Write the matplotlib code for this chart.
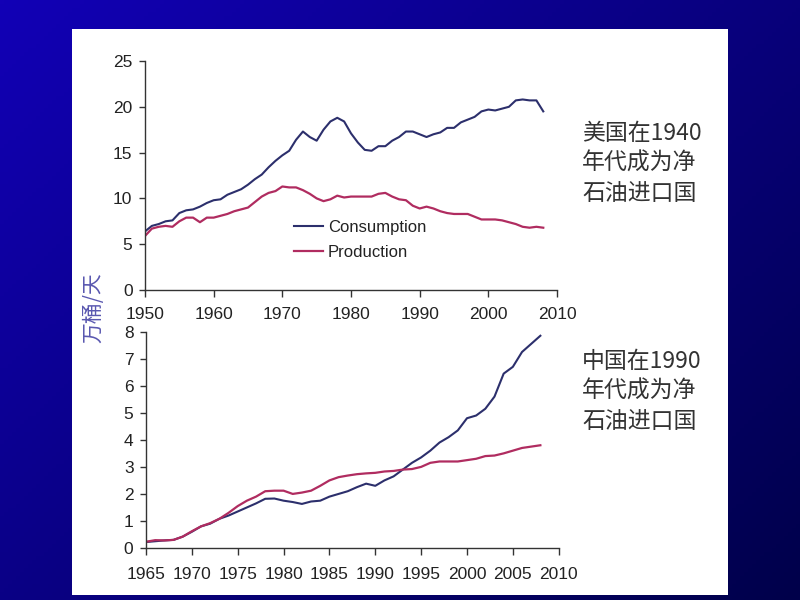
import numpy as np
import matplotlib
matplotlib.use("Agg")
import matplotlib.pyplot as plt
from matplotlib.patches import Rectangle

# ---------------- data ----------------
us_years = list(range(1950, 2009))
us_consumption = [6.4, 7.0, 7.2, 7.5, 7.6, 8.4, 8.7, 8.8, 9.1, 9.5,
                  9.8, 9.9, 10.4, 10.7, 11.0, 11.5, 12.1, 12.6, 13.4, 14.1,
                  14.7, 15.2, 16.4, 17.3, 16.7, 16.3, 17.5, 18.4, 18.8, 18.4,
                  17.1, 16.1, 15.3, 15.2, 15.7, 15.7, 16.3, 16.7, 17.3, 17.3,
                  17.0, 16.7, 17.0, 17.2, 17.7, 17.7, 18.3, 18.6, 18.9, 19.5,
                  19.7, 19.6, 19.8, 20.0, 20.7, 20.8, 20.7, 20.7, 19.5]
us_production = [5.9, 6.7, 6.9, 7.0, 6.9, 7.5, 7.9, 7.9, 7.4, 7.9,
                 7.9, 8.1, 8.3, 8.6, 8.8, 9.0, 9.6, 10.2, 10.6, 10.8,
                 11.3, 11.2, 11.2, 10.9, 10.5, 10.0, 9.7, 9.9, 10.3, 10.1,
                 10.2, 10.2, 10.2, 10.2, 10.5, 10.6, 10.2, 9.9, 9.8, 9.2,
                 8.9, 9.1, 8.9, 8.6, 8.4, 8.3, 8.3, 8.3, 8.0, 7.7,
                 7.7, 7.7, 7.6, 7.4, 7.2, 6.9, 6.8, 6.9, 6.8]

cn_years = list(range(1965, 2009))
cn_consumption = [0.22, 0.25, 0.28, 0.30, 0.42, 0.60, 0.80, 0.90, 1.08, 1.20,
                  1.35, 1.50, 1.65, 1.82, 1.83, 1.75, 1.70, 1.63, 1.72, 1.75,
                  1.90, 2.00, 2.10, 2.25, 2.38, 2.30, 2.50, 2.65, 2.90, 3.15,
                  3.35, 3.60, 3.90, 4.10, 4.35, 4.80, 4.90, 5.15, 5.60, 6.45,
                  6.70, 7.25, 7.55, 7.85]
cn_production = [0.23, 0.29, 0.28, 0.30, 0.42, 0.62, 0.80, 0.92, 1.08, 1.30,
                 1.55, 1.75, 1.90, 2.10, 2.12, 2.12, 2.00, 2.05, 2.12, 2.30,
                 2.50, 2.62, 2.68, 2.73, 2.76, 2.78, 2.83, 2.85, 2.90, 2.92,
                 3.00, 3.15, 3.20, 3.20, 3.20, 3.25, 3.30, 3.40, 3.42, 3.50,
                 3.60, 3.70, 3.75, 3.80]

top_xticks = [1950, 1960, 1970, 1980, 1990, 2000, 2010]
top_yticks = [0, 5, 10, 15, 20, 25]
bot_xticks = [1965, 1970, 1975, 1980, 1985, 1990, 1995, 2000, 2005, 2010]
bot_yticks = [0, 1, 2, 3, 4, 5, 6, 7, 8]

series_labels = ["Consumption", "Production"]
ylabel_text = "万桶/天"
us_note = ["美国在1940", "年代成为净", "石油进口国"]
cn_note = ["中国在1990", "年代成为净", "石油进口国"]

# ---------------- style ----------------
CJK = ["Noto Sans CJK SC", "DejaVu Sans"]
LAT = ["Liberation Sans", "DejaVu Sans"]
c_cons = "#2c2f6c"
c_prod = "#b02c60"
tick_col = "#222222"

fig = plt.figure(figsize=(8, 6), dpi=100)

# gradient background
bg = fig.add_axes([0, 0, 1, 1], zorder=-10)
gx, gy = np.meshgrid(np.linspace(0, 1, 200), np.linspace(0, 1, 150))
t = np.clip(0.55 * gx + 0.45 * gy, 0, 1)
c0 = np.array([0x12, 0x00, 0xb6]) / 255
c1 = np.array([0x00, 0x00, 0x4a]) / 255
img = c0[None, None, :] * (1 - t[..., None]) + c1[None, None, :] * t[..., None]
bg.imshow(img, aspect="auto", extent=[0, 1, 0, 1], origin="upper")
bg.set_axis_off()

# white panel
fig.patches.append(Rectangle((72 / 800, 1 - 595 / 600), (728 - 72) / 800, (595 - 29) / 600,
                             transform=fig.transFigure, facecolor="white",
                             edgecolor="none", zorder=-5))


def style_axes(ax, xpad):
    for s in ["top", "right"]:
        ax.spines[s].set_visible(False)
    for s in ["left", "bottom"]:
        ax.spines[s].set_color("#333333")
        ax.spines[s].set_linewidth(1.0)
    ax.tick_params(axis="y", direction="out", length=4, width=1, pad=5,
                   colors="#333333", labelcolor=tick_col, labelsize=12.5)
    ax.tick_params(axis="x", direction="out", length=5, width=1, pad=xpad,
                   colors="#333333", labelcolor=tick_col, labelsize=12.5)
    for lab in ax.get_xticklabels() + ax.get_yticklabels():
        lab.set_family(LAT)
    ax.set_facecolor("none")


# top axes (US)
ax1 = fig.add_axes([145 / 800, 1 - 290 / 600, (557 - 145) / 800, (290 - 61) / 600])
ax1.plot(us_years, us_consumption, color=c_cons, lw=1.5, label=series_labels[0])
ax1.plot(us_years, us_production, color=c_prod, lw=1.6, label=series_labels[1])
ax1.set_xlim(1950, 2010)
ax1.set_ylim(0, 25)
ax1.set_xticks(top_xticks)
ax1.set_yticks(top_yticks)
style_axes(ax1, 7)
leg = ax1.legend(loc="upper left", bbox_to_anchor=(0.325, 0.37), frameon=False,
                 handlelength=1.75, handletextpad=0.3, labelspacing=0.6,
                 prop={"family": LAT, "size": 12})
for txt in leg.get_texts():
    txt.set_color("#222222")

# bottom axes (China)
ax2 = fig.add_axes([146 / 800, 1 - 548 / 600, (558.7 - 146) / 800, (548 - 331.7) / 600])
ax2.plot(cn_years, cn_consumption, color=c_cons, lw=1.5)
ax2.plot(cn_years, cn_production, color=c_prod, lw=1.6)
ax2.set_xlim(1965, 2010)
ax2.set_ylim(0, 8)
ax2.set_xticks(bot_xticks)
ax2.set_yticks(bot_yticks)
style_axes(ax2, 9)

# shared y label
fig.text(93 / 800, 1 - 308 / 600, ylabel_text, rotation=90, ha="center", va="center",
         fontsize=15, color="#5a58b0", family=CJK)

# notes
for i, line in enumerate(us_note):
    fig.text(582 / 800, 1 - (133 + 30.5 * i) / 600, line, ha="left", va="center",
             fontsize=16.5, color="#333333", family=CJK)
for i, line in enumerate(cn_note):
    fig.text(582 / 800, 1 - (361 + 30.5 * i) / 600, line, ha="left", va="center",
             fontsize=16.5, color="#333333", family=CJK)

fig.savefig("out.png", dpi=100)
